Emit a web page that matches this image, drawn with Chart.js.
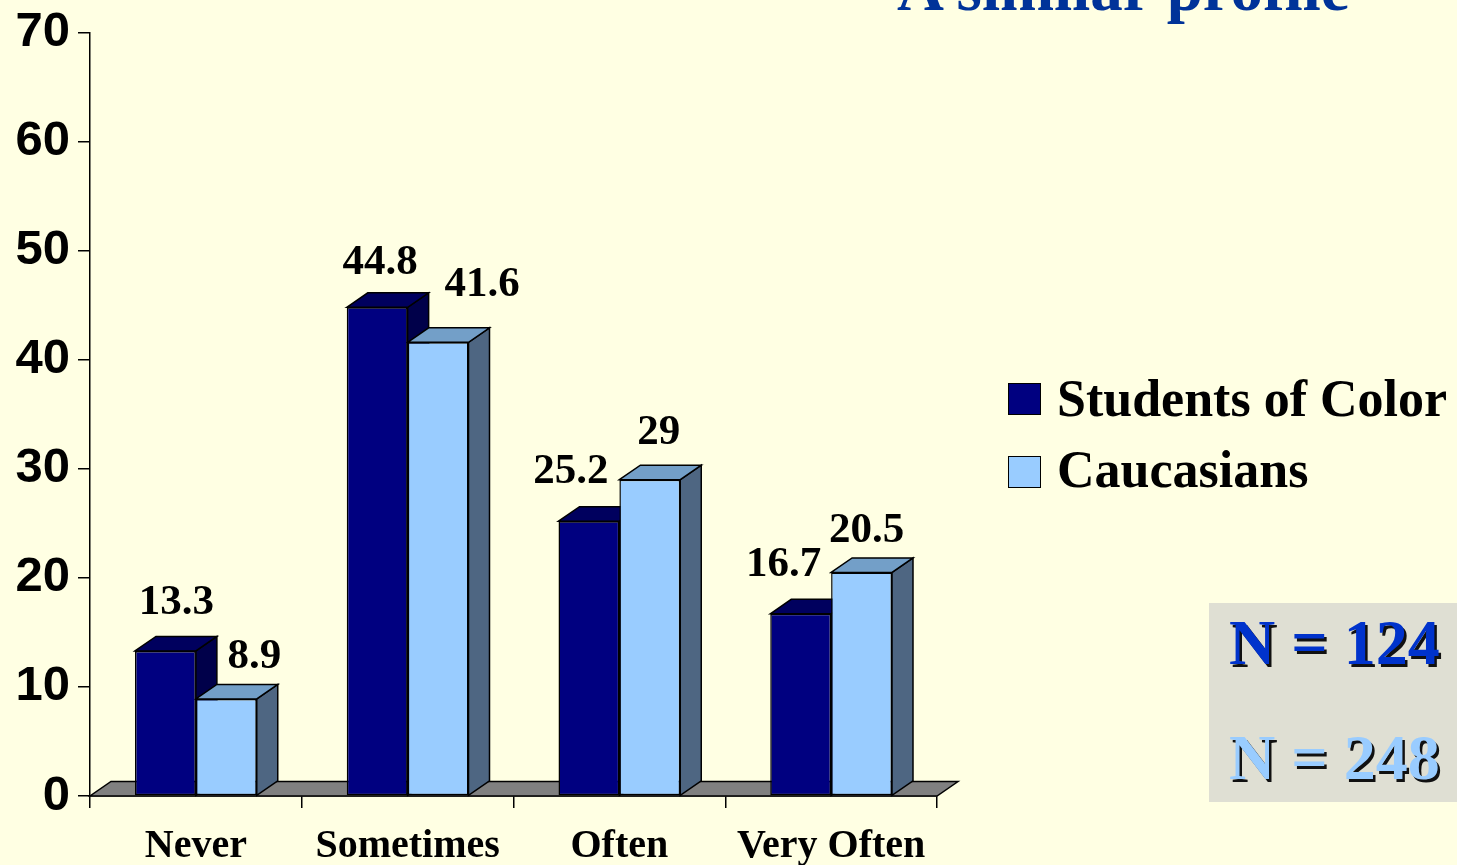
<!DOCTYPE html>
<html>
<head>
<meta charset="utf-8">
<script src="https://cdn.jsdelivr.net/npm/chart.js@4.4.1/dist/chart.umd.min.js"></script>
<style>
  html, body { margin:0; padding:0; background:#FFFFE3; overflow:hidden; }
  #wrap { position:relative; width:1457px; height:865px; }
  canvas { position:absolute; left:0; top:0; }
  .ser { font-family:"Liberation Serif","Times New Roman",serif; font-weight:bold; position:absolute; white-space:nowrap; }
  #title { left:897px; top:-44px; font-size:65px; line-height:65px; color:#003399; }
  .legtxt { left:1057px; font-size:52px; line-height:52px; color:#000; }
  .legsq { position:absolute; left:1008px; width:31px; height:30px; border:1.5px solid #000; }
  #nbox { position:absolute; left:1209px; top:603px; width:248px; height:199px; background:#DFDFD3; }
  .ntxt { left:1229px; font-size:64px; line-height:64px; text-shadow:2.5px 2.5px 0 #111; }
</style>
</head>
<body>
<div id="wrap">
  <canvas id="c" width="1457" height="865"></canvas>
  <div id="title" class="ser">A similar profile</div>
  <div class="legsq" style="top:383px;background:#000080"></div>
  <div class="ser legtxt" style="top:373px">Students of Color</div>
  <div class="legsq" style="top:456px;background:#99CCFF"></div>
  <div class="ser legtxt" style="top:444px">Caucasians</div>
  <div id="nbox"></div>
  <div class="ser ntxt" style="top:611px;color:#0033CC">N = 124</div>
  <div class="ser ntxt" style="top:726px;color:#99CCFF">N = 248</div>
</div>
<script>
// ---- data ----
const categories = ['Never', 'Sometimes', 'Often', 'Very Often'];
const seriesNames = ['Students of Color', 'Caucasians'];
const studentsOfColor = [13.3, 44.8, 25.2, 16.7];
const caucasians = [8.9, 41.6, 29, 20.5];
const yMin = 0, yMax = 70, yStep = 10;

// ---- styling ----
const frontColors = ['#000080', '#99CCFF'];
const topColors = ['#00005E', '#739FC8'];
const sideColors = ['#00004A', '#4E6682'];
const depth = { dx: 21, dy: -14.5 };
// label nudges relative to bar front-top centre [dataset][category] = [dx, dy]
const labelNudge = [
  [[11, -37], [3, -33], [-18, -38], [-17, -38]],
  [[28, -31], [44, -46], [9, -36], [5, -30]]
];

const bars3d = {
  id: 'bars3d',
  beforeDatasetsDraw(chart) {
    const ctx = chart.ctx;
    const { left, right } = chart.chartArea;
    const y0 = chart.scales.y.getPixelForValue(0);
    const { dx, dy } = depth;
    ctx.save();
    ctx.lineWidth = 1.5;
    ctx.strokeStyle = '#000';
    ctx.lineJoin = 'miter';
    // floor
    ctx.beginPath();
    ctx.moveTo(left, y0);
    ctx.lineTo(right, y0);
    ctx.lineTo(right + dx, y0 + dy);
    ctx.lineTo(left + dx, y0 + dy);
    ctx.closePath();
    ctx.fillStyle = '#808080';
    ctx.fill();
    ctx.stroke();
    const n = chart.data.labels.length;
    for (let i = 0; i < n; i++) {
      chart.data.datasets.forEach((ds, d) => {
        const el = chart.getDatasetMeta(d).data[i];
        const p = el.getProps(['x', 'y', 'width', 'base'], true);
        const l = p.x - p.width / 2, r = p.x + p.width / 2;
        // side
        ctx.beginPath();
        ctx.moveTo(r, p.y);
        ctx.lineTo(r + dx, p.y + dy);
        ctx.lineTo(r + dx, p.base + dy);
        ctx.lineTo(r, p.base);
        ctx.closePath();
        ctx.fillStyle = sideColors[d];
        ctx.fill();
        ctx.stroke();
        // top
        ctx.beginPath();
        ctx.moveTo(l, p.y);
        ctx.lineTo(l + dx, p.y + dy);
        ctx.lineTo(r + dx, p.y + dy);
        ctx.lineTo(r, p.y);
        ctx.closePath();
        ctx.fillStyle = topColors[d];
        ctx.fill();
        ctx.stroke();
      });
    }
    ctx.restore();
  },
  afterDatasetsDraw(chart) {
    const ctx = chart.ctx;
    ctx.save();
    ctx.font = 'bold 43px "Liberation Serif", "Times New Roman", serif';
    ctx.fillStyle = '#000';
    ctx.textAlign = 'center';
    ctx.textBaseline = 'alphabetic';
    chart.data.datasets.forEach((ds, d) => {
      chart.getDatasetMeta(d).data.forEach((el, i) => {
        const p = el.getProps(['x', 'y'], true);
        const nd = labelNudge[d][i];
        ctx.fillText(String(ds.data[i]), p.x + nd[0], p.y + nd[1]);
      });
    });
    ctx.restore();
  }
};

new Chart(document.getElementById('c'), {
  type: 'bar',
  data: {
    labels: categories,
    datasets: [
      { label: seriesNames[0], data: studentsOfColor, backgroundColor: frontColors[0],
        borderColor: '#000', borderWidth: 1.5, borderSkipped: false },
      { label: seriesNames[1], data: caucasians, backgroundColor: frontColors[1],
        borderColor: '#000', borderWidth: 1.5, borderSkipped: false }
    ]
  },
  options: {
    responsive: false,
    animation: false,
    layout: { padding: { top: 30, right: 520, left: 0, bottom: 0 } },
    plugins: { legend: { display: false }, tooltip: { enabled: false }, title: { display: false } },
    datasets: { bar: { categoryPercentage: 0.575, barPercentage: 1 } },
    scales: {
      x: {
        afterFit(s) { s.height = 69; },
        grid: { offset: true, drawOnChartArea: false, drawTicks: true, tickLength: 12, color: '#000', lineWidth: 1.5 },
        border: { display: true, color: '#000', width: 1.5 },
        ticks: { color: '#000', padding: 15, maxRotation: 0,
          font: { family: '"Liberation Serif", "Times New Roman", serif', weight: 'bold', size: 40 } }
      },
      y: {
        min: yMin, max: yMax,
        afterFit(s) { s.width = 90; },
        grid: { drawOnChartArea: false, drawTicks: true, tickLength: 12, color: '#000', lineWidth: 1.5 },
        border: { display: true, color: '#000', width: 1.5 },
        ticks: { stepSize: yStep, color: '#000', padding: 8,
          font: { family: '"Liberation Sans", Arial, sans-serif', weight: 'bold', size: 49, lineHeight: 1 } }
      }
    }
  },
  plugins: [bars3d]
});
</script>
</body>
</html>
